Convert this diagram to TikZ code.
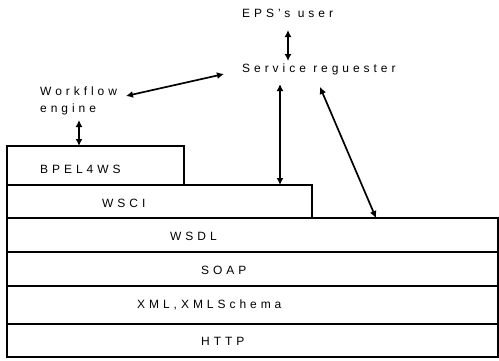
\documentclass[tikz,border=0pt]{standalone}
\usepackage{fontspec}
\setmainfont{Liberation Sans}[LetterSpace=33]
\usetikzlibrary{arrows.meta}
\begin{document}
\begin{tikzpicture}[x=1pt,y=-1pt,
  layer/.style={draw,line width=1.5pt},
  lbl/.style={font=\fontsize{12}{14}\selectfont,inner sep=0pt,anchor=west},
  biarrow/.style={line width=1.7pt,{Latex[length=7pt,width=7pt]}-{Latex[length=7pt,width=7pt]}}]
\useasboundingbox (0,0) rectangle (499,360);
% layers
\draw[layer] (7,146) rectangle (184,185);
\draw[layer] (7,185) rectangle (312,218);
\draw[layer] (7,218) rectangle (498,252);
\draw[layer] (7,252) rectangle (498,286);
\draw[layer] (7,286) rectangle (498,324);
\draw[layer] (7,324) rectangle (498,357);
\coordinate (bpel) at (79,146);
\coordinate (wsci) at (280,185);
\coordinate (wsdl) at (376,218);
% labels
\node[lbl] (eps) at (242,13) {EPS's user};
\node[lbl] (sr) at (242,69) {Service reguester};
\node[lbl] (wf) at (40,91) {Workflow};
\node[lbl] (eng) at (40,109) {engine};
\node[lbl] (b) at (40,169) {BPEL4WS};
\node[lbl] (c) at (102,203) {WSCI};
\node[lbl] (d) at (170,236) {WSDL};
\node[lbl] (s) at (201,270) {SOAP};
\node[lbl] (x) at (137,305) {XML,XMLSchema};
\node[lbl] (h) at (201,341) {HTTP};
% arrows
\coordinate (e1) at (288,30);
\coordinate (s1) at (288,61);
\coordinate (w1) at (126,96);
\coordinate (s2) at (224,74);
\coordinate (g1) at (79,120);
\coordinate (s3) at (280,84);
\coordinate (s4) at (320,87);
\draw[biarrow] (e1) -- (s1);
\draw[biarrow] (w1) -- (s2);
\draw[biarrow] (g1) -- (bpel);
\draw[biarrow] (s3) -- (wsci);
\draw[biarrow] (s4) -- (wsdl);
\end{tikzpicture}
\end{document}
